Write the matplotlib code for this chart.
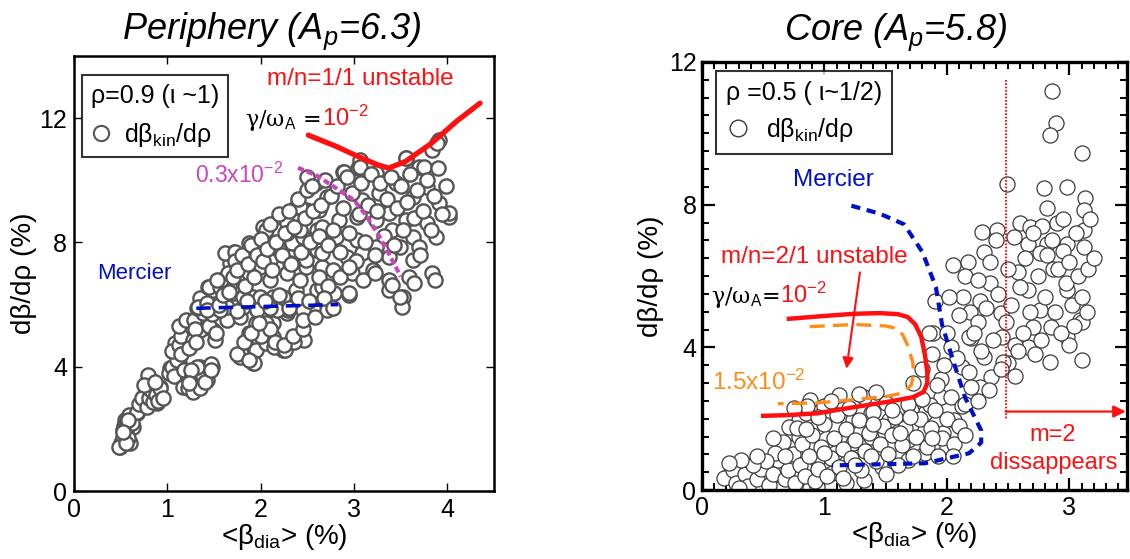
import matplotlib
matplotlib.use("Agg")
import matplotlib.pyplot as plt
from matplotlib.lines import Line2D
from matplotlib.ticker import MultipleLocator

plt.rcParams['font.family'] = ['Liberation Sans', 'DejaVu Sans']
plt.rcParams['mathtext.fontset'] = 'custom'
plt.rcParams['mathtext.rm'] = 'Liberation Sans'
plt.rcParams['mathtext.it'] = 'Liberation Sans:italic'
plt.rcParams['mathtext.bf'] = 'Liberation Sans:bold'

# ---------------- Periphery data ----------------
periph_points = [
    (0.49,1.41),(0.57,1.86),(0.55,2.28),(0.63,2.06),(0.60,1.54),(0.67,2.50),(0.71,2.70),(0.79,3.73),
    (0.74,3.02),(0.85,3.15),(0.92,3.34),(0.81,3.34),(0.89,2.83),(0.78,3.25),(0.50,1.55),(0.53,1.75),
    (0.56,1.90),(0.58,1.70),(0.54,2.10),(0.57,2.25),(0.62,2.20),(0.59,2.45),(0.52,1.95),(0.68,2.55),
    (0.70,2.80),(0.73,3.00),(0.78,2.70),(0.80,3.00),(0.83,3.25),(0.85,2.85),(0.88,3.10),(0.90,2.90),
    (0.92,3.30),(0.95,3.00),(0.75,3.40),(0.87,3.50),(0.48,1.41),(0.56,1.54),(0.58,2.28),(0.52,1.90),
    (1.03,3.95),(1.10,4.44),(1.08,4.76),(1.16,5.08),(1.21,5.27),(1.13,4.12),(1.06,3.79),(1.02,3.80),
    (1.05,4.00),(1.07,3.70),(1.10,4.20),(1.05,4.50),(1.12,4.70),(1.15,4.40),(1.15,5.00),(1.18,3.90),
    (1.12,5.30),(1.20,5.50),(1.22,3.47),(1.26,3.67),(1.38,3.79),(1.42,3.57),(1.33,3.57),(1.48,3.99),
    (1.35,3.99),(1.17,3.34),(1.22,3.30),(1.25,3.60),(1.28,3.20),(1.30,3.50),(1.35,3.30),(1.38,3.70),
    (1.45,3.95),(1.40,3.50),(1.32,4.00),(1.25,3.90),(1.47,4.10),(1.23,3.47),(1.47,3.89),
    (1.27,4.86),(1.35,5.18),(1.42,5.50),(1.49,5.18),(1.51,4.86),(1.29,5.50),(1.38,5.72),(1.30,5.20),
    (1.32,5.90),(1.45,5.30),(1.42,6.00),(1.48,5.70),(1.35,6.20),(1.50,6.30),(1.23,4.60),(1.33,5.92),
    (1.31,4.79),(1.52,5.08),(1.44,6.56),(1.49,6.46),(1.42,6.05),
    (1.78,4.31),(1.92,4.12),(1.85,4.63),(1.95,4.53),(2.06,4.76),(2.24,4.53),(2.13,4.95),(2.34,4.86),
    (1.88,5.08),(1.64,5.50),(1.78,5.60),(1.95,5.40),(2.13,5.40),(2.28,5.72),(2.02,5.72),(1.81,5.92),
    (1.64,5.92),(2.34,6.24),(2.13,6.24),(1.92,6.24),(1.70,6.37),(1.79,4.44),(1.93,4.12),(2.14,4.63),
    (2.26,4.53),(2.46,4.86),(2.36,4.79),(2.06,5.40),(2.29,5.82),(2.57,5.82),(2.79,6.37),(2.95,6.30),
    (1.75,4.40),(1.82,4.80),(1.88,4.20),(2.00,5.00),(2.10,5.20),(2.15,4.80),(2.25,4.70),(2.35,5.00),
    (2.45,5.20),(1.90,5.08),
    (2.38,9.13),(2.49,9.04),(2.02,8.49),(2.17,8.39),(2.28,8.62),(1.74,7.65),(1.67,7.33),(1.45,6.56),
    (1.56,6.56),(1.78,6.88),(1.99,7.20),(1.88,7.01),(2.10,7.43),(2.20,7.75),(2.34,7.97),(2.45,8.17),
    (2.60,8.39),(2.60,7.75),(2.66,7.20),(2.49,7.20),(2.28,7.01),(2.10,6.78),(1.99,6.24),(1.81,6.24),
    (1.67,6.69),(2.38,6.46),(2.24,6.24),(2.60,6.46),(2.71,5.82),(2.45,5.82),(2.17,5.82),(1.96,5.82),
    (1.56,5.82),(1.42,5.82),(2.06,8.07),(1.88,7.97),(2.31,7.52),(2.41,9.13),(2.06,8.39),(1.71,7.68),
    (1.62,7.65),(1.72,7.70),
    (2.88,10.26),(3.04,10.39),(3.24,10.22),(3.56,10.71),(3.70,10.42),(3.84,10.96),(3.91,11.29),
    (3.45,9.90),(3.78,9.78),(3.63,9.45),(3.91,9.26),(4.02,8.81),(3.27,9.58),(3.09,9.36),(2.71,9.45),
    (2.63,9.04),(2.42,9.13),(3.38,8.94),(3.56,8.71),(3.78,8.62),(3.88,8.17),(3.63,8.17),(3.41,8.39),
    (3.24,8.71),(3.03,8.81),(2.84,8.71),(2.66,8.49),(2.42,8.39),(2.28,8.30),(2.81,8.17),(3.03,8.07),
    (3.24,7.85),(3.49,7.85),(3.70,7.85),(3.63,7.43),(3.38,7.52),(3.09,7.65),(2.92,7.52),(2.66,7.65),
    (2.49,7.43),(2.31,7.33),(2.77,7.11),(2.98,7.01),(3.20,7.11),(3.38,6.78),(3.59,6.88),(3.84,7.01),
    (3.52,6.24),(3.51,5.92),(3.38,6.46),(2.95,6.37),(2.66,6.56),(2.42,6.78),(3.06,10.64),(2.89,10.26),
    (3.06,10.42),(3.56,10.70),(3.75,10.42),(3.89,11.19),(4.02,8.94),(3.49,6.24),(3.41,6.62),(3.64,6.69),
    (3.87,6.78),
    (1.55,6.00),(1.60,6.30),(1.58,6.80),(1.65,7.00),(1.70,6.90),(1.72,7.40),(1.75,7.10),(1.80,7.60),
    (1.83,6.60),(1.86,7.30),(1.90,7.90),(1.93,6.90),(1.96,7.60),(2.00,8.10),(2.03,7.40),(2.07,7.80),
    (2.10,8.60),(2.12,7.10),(2.16,8.00),(2.20,8.90),(2.23,7.60),(2.26,8.30),(2.30,9.00),(2.33,7.30),
    (2.36,8.50),(2.40,9.40),(2.43,7.70),(2.47,8.80),(2.50,9.70),(2.53,8.00),(2.56,9.00),(2.59,9.90),
    (2.62,8.20),(2.65,9.20),(2.69,10.00),(2.72,7.90),(2.75,9.50),(2.78,8.40),(2.82,9.80),(2.85,7.70),
    (2.88,9.10),(2.92,10.10),(2.95,8.30),(2.98,9.60),(3.02,7.40),(3.05,8.90),(3.08,9.90),(3.12,8.00),
    (3.15,9.20),(3.18,10.20),(3.22,7.60),(3.25,9.00),(3.28,9.90),(3.32,8.20),(3.35,9.40),(3.40,10.10),
    (3.43,7.90),(3.46,9.10),(3.50,9.80),(3.53,8.40),(3.57,9.30),(3.60,10.20),(3.64,8.80),(3.67,9.70),
    (3.71,7.60),(3.74,9.00),(3.78,10.00),(3.82,8.40),(3.86,9.50),(3.90,10.40),(3.94,8.90),(3.98,9.80),
    (2.10,5.90),(2.20,6.30),(2.30,5.90),(2.40,6.20),(2.52,6.10),(2.62,6.90),(2.72,6.60),(2.85,6.90),
    (2.95,7.20),(3.10,6.80),(3.22,7.00),(1.98,5.40),(2.05,6.10),(1.75,5.80),(1.85,6.10),(1.66,6.40),
    (1.53,6.80),(2.45,5.50),(2.58,5.60),(2.68,6.20),(2.78,5.90),(2.50,10.10),(2.55,9.80),
]
periph_beta = [p[0] for p in periph_points]
periph_dbeta = [p[1] for p in periph_points]

periph_unstable_x = [2.51, 2.80, 3.06, 3.25, 3.37, 3.55, 3.83, 4.10, 4.35]
periph_unstable_y = [11.45, 11.10, 10.74, 10.50, 10.39, 10.60, 11.19, 11.90, 12.48]
periph_03_x = [2.40, 2.60, 2.79, 3.00, 3.12, 3.25, 3.38, 3.50]
periph_03_y = [10.40, 10.15, 9.78, 9.36, 8.90, 8.30, 7.60, 6.90]
periph_mercier_x = [1.31, 2.83]
periph_mercier_y = [5.88, 6.00]

# ---------------- Core data ----------------
core_points = [
    (2.86,11.20),(2.89,10.30),(2.84,9.94),(3.10,9.44),(2.49,8.57),(2.79,8.46),(2.98,8.49),(3.13,8.20),
    (2.82,7.90),(3.12,7.84),(2.60,7.50),(2.68,7.37),(2.78,7.40),(2.90,7.50),(2.29,7.23),(2.41,7.28),
    (2.66,6.90),(2.82,6.90),(2.98,6.90),(3.12,7.28),(2.30,6.67),
    (2.05,6.30),(2.17,6.40),(2.13,5.40),(2.27,5.30),(2.19,5.00),(2.25,4.70),(1.90,5.30),(1.89,4.40),
    (2.20,4.25),(2.35,5.80),(2.44,4.96),(2.45,4.30),(2.58,6.10),(2.66,5.60),(2.76,5.04),(2.85,4.57),
    (2.87,6.20),(2.98,5.60),(3.09,4.76),(2.98,4.30),(2.66,4.00),(2.76,6.64),(2.95,6.70),
    (3.10,4.70),(3.10,3.64),(3.00,4.06),(2.56,4.06),(2.70,4.57),(2.50,3.56),(2.36,3.17),(2.27,2.88),
    (2.18,4.30),(2.30,3.72),(2.03,4.00),(2.12,3.45),
    (0.22,0.42),(0.33,0.28),(0.41,0.47),(0.53,0.28),(0.65,0.08),(0.77,0.02),(0.88,0.05),(0.65,0.64),
    (0.71,1.20),(0.79,1.48),(0.94,0.84),(1.09,1.03),(1.23,1.31),(1.38,1.48),(1.53,1.20),(1.68,1.40),
    (1.82,1.68),(1.97,1.59),(2.06,1.96),(1.82,2.15),(1.71,2.24),(1.53,1.96),(1.38,2.15),(1.23,1.96),
    (1.09,1.76),(0.94,1.76),(0.79,1.96),(0.71,1.76),(0.85,2.15),(1.32,2.60),(0.88,2.52),(1.95,2.60),
    (1.86,2.38),(1.47,0.64),(1.32,0.28),(1.18,0.20),(0.94,0.08),(1.06,0.47),(1.68,0.84),(1.82,1.03),
    (2.00,1.20),
    (0.18,0.35),(0.25,0.55),(0.28,0.20),(0.35,0.45),(0.38,0.10),(0.45,0.30),(0.48,0.60),(0.55,0.15),
    (0.58,0.45),(0.62,0.85),(0.68,0.30),(0.70,0.55),(0.74,1.00),(0.76,0.20),(0.80,0.70),(0.82,1.30),
    (0.84,0.40),(0.87,0.95),(0.90,1.55),(0.92,0.25),(0.95,0.60),(0.97,1.20),(1.00,1.85),(1.02,0.40),
    (1.05,0.90),(1.08,1.45),(1.10,2.10),(1.12,0.65),(1.15,1.15),(1.18,1.70),(1.20,2.30),(1.22,0.90),
    (1.25,1.40),(1.28,1.95),(1.30,0.55),(1.33,1.10),(1.36,1.60),(1.40,2.20),(1.42,0.80),(1.45,1.30),
    (1.48,1.80),(1.50,2.45),(1.52,1.00),(1.55,1.55),(1.58,2.05),(1.60,0.70),(1.63,1.25),(1.66,1.75),
    (1.68,2.40),(1.72,0.95),(1.75,1.50),(1.78,2.00),(1.80,2.55),(1.84,1.20),(1.87,1.75),(1.90,2.25),
    (1.93,0.95),(1.96,1.45),(2.00,2.00),(2.03,2.60),(2.06,1.30),(2.10,1.80),(2.12,2.35),(1.12,2.65),
    (1.28,2.70),(1.42,2.75),(1.00,2.35),(0.86,2.35),(0.78,1.75),(0.66,1.35),(0.60,1.05),(0.52,0.80),
    (0.42,0.70),(0.32,0.85),(0.22,0.75),
    (0.30,0.05),(0.45,0.95),(0.58,1.45),(0.68,0.95),(0.85,1.70),(1.00,1.05),(1.15,0.35),(1.25,0.70),
    (1.38,0.95),(1.50,0.45),(1.62,1.60),(1.70,2.05),(1.88,1.45),(2.05,0.95),(2.15,1.55),(1.40,1.85),
    (1.55,2.25),(1.05,2.50),(0.95,2.05),(0.75,2.30),
    (1.72,3.00),(1.80,3.40),(1.85,4.40),(1.88,3.80),(1.95,3.10),(2.00,4.40),(2.02,5.40),(2.08,3.70),
    (2.10,4.90),(2.15,6.00),(2.18,3.30),(2.22,4.40),(2.25,5.90),(2.28,3.90),(2.32,5.10),(2.35,6.40),
    (2.38,4.20),(2.40,7.00),(2.42,5.50),(2.46,3.60),(2.48,4.70),(2.50,6.20),(2.52,5.20),(2.55,7.10),
    (2.58,3.90),(2.60,5.70),(2.62,4.40),(2.64,6.50),(2.68,5.00),(2.70,7.20),(2.72,3.80),(2.74,6.00),
    (2.77,4.20),(2.80,5.40),(2.82,6.60),(2.84,3.60),(2.86,7.00),(2.88,5.00),(2.91,6.20),(2.93,4.40),
    (2.95,7.60),(2.97,5.80),(3.00,6.40),(3.02,5.20),(3.05,7.20),(3.07,6.00),(3.10,5.40),(3.12,6.80),
    (3.15,6.20),(3.17,7.60),(3.20,6.50),(3.14,5.00),(3.04,4.60),(2.56,3.20),(2.44,3.40),(2.34,2.80),
    (2.20,2.90),(2.15,2.40),(2.25,2.50),(1.98,3.50),(1.92,2.95),
]
core_beta = [p[0] for p in core_points]
core_dbeta = [p[1] for p in core_points]

core_mercier_x = [1.22, 1.45, 1.65, 1.80, 1.91, 1.96, 2.06, 2.15, 2.28, 2.28, 2.18, 1.82, 1.06]
core_mercier_y = [7.97, 7.75, 7.45, 6.67, 5.69, 4.64, 3.53, 2.58, 1.67, 1.33, 1.03, 0.75, 0.69]
core_red_x = [0.71, 1.00, 1.24, 1.45, 1.60, 1.68, 1.74, 1.79, 1.82, 1.84, 1.84, 1.81, 1.72, 1.53,
              1.20, 0.94, 0.70, 0.50]
core_red_y = [4.80, 4.88, 4.94, 4.96, 4.93, 4.85, 4.65, 4.30, 3.80, 3.30, 3.00, 2.75, 2.60, 2.48,
              2.30, 2.15, 2.10, 2.08]
core_orange_x = [0.88, 1.24, 1.50, 1.59, 1.64, 1.68, 1.72, 1.73, 1.71, 1.64, 1.50, 1.20, 0.94, 0.62]
core_orange_y = [4.58, 4.64, 4.60, 4.53, 4.35, 4.05, 3.60, 3.30, 2.95, 2.72, 2.62, 2.52, 2.44, 2.42]
core_m2_limit_x = [2.48, 2.48]
core_m2_limit_y = [11.5, 1.96]

RED = '#ff1010'
BLUE = '#0010c8'
MAGENTA = '#cc44bb'
ORANGE = '#ff8c1a'

fig = plt.figure(figsize=(11.30, 5.59), dpi=100)
ax1 = fig.add_axes([0.0655, 0.1216, 0.3717, 0.7784])
ax2 = fig.add_axes([0.6212, 0.1234, 0.3761, 0.7657])

# ---------- left panel ----------
ax1.scatter(periph_beta, periph_dbeta, s=105, facecolors='white', edgecolors='#555555',
            linewidths=1.7, zorder=2)
ax1.plot(periph_unstable_x, periph_unstable_y, color=RED, lw=3.8, solid_capstyle='round', zorder=4)
ax1.plot(periph_03_x, periph_03_y, color=MAGENTA, lw=3.0, dashes=(1.5, 0.8), zorder=4)
ax1.plot(periph_mercier_x, periph_mercier_y, color=BLUE, lw=2.6, dashes=(4, 2.2), zorder=4)

ax1.set_xlim(0, 4.5)
ax1.set_ylim(0, 14)
ax1.set_xticks([0, 1, 2, 3, 4])
ax1.set_yticks([0, 4, 8, 12])
ax1.tick_params(direction='in', top=True, right=True, length=6, width=1.0, labelsize=18, pad=5,
                colors='black')
for sp in ax1.spines.values():
    sp.set_linewidth(1.8)
ax1.set_xlabel('<β$_\\mathrm{dia}$> (%)', fontsize=20, labelpad=0)
ax1.set_ylabel('dβ/dρ (%)', fontsize=20, labelpad=2)
ax1.set_title('Periphery (A$_\\mathit{p}$=6.3)', fontstyle='italic', fontsize=26, x=0.47, pad=12)

h1 = Line2D([], [], ls='none', marker='o', ms=11, mfc='white', mec='#555555', mew=1.5)
leg1 = ax1.legend([h1], ['dβ$_\\mathrm{kin}$/dρ'], title='ρ=0.9 (ι ~1)', loc='upper left',
                  bbox_to_anchor=(0.02, 0.955), fontsize=18, title_fontsize=18, frameon=True,
                  fancybox=False, edgecolor='black', handlelength=0.8, handletextpad=0.5,
                  borderpad=0.35, alignment='left', borderaxespad=0, labelspacing=0.2)
leg1._legend_box.sep = 9
leg1.get_frame().set_linewidth(1.5)
leg1.set_zorder(6)

ax1.text(3.07, 13.25, 'm/n=1/1 unstable', color=RED, fontsize=17.5, ha='center', va='center')
ax1.text(2.64, 11.75, 'γ/ω$_\\mathrm{A}$ =', color='black', fontsize=16, ha='right', va='baseline',
         family=['DejaVu Serif'])
ax1.text(2.66, 11.75, '10$^{-2}$', color=RED, fontsize=17, ha='left', va='baseline')
ax1.text(1.30, 10.15, '0.3x10$^{-2}$', color=MAGENTA, fontsize=16.5, ha='left', va='center')
ax1.text(0.25, 7.0, 'Mercier', color=BLUE, fontsize=16, ha='left', va='center')

# ---------- right panel ----------
ax2.scatter(core_beta, core_dbeta, s=118, facecolors='white', edgecolors='#3a3a3a',
            linewidths=0.9, zorder=2, clip_on=True)
ax2.plot(core_mercier_x, core_mercier_y, color=BLUE, lw=3.0, dashes=(2.2, 1.6), zorder=4)
ax2.plot(core_red_x, core_red_y, color=RED, lw=3.2, zorder=4)
ax2.plot(core_orange_x, core_orange_y, color=ORANGE, lw=2.4, dashes=(4.5, 2.5), zorder=4)
ax2.plot(core_m2_limit_x, core_m2_limit_y, color=RED, lw=1.5, dashes=(0.8, 0.8), zorder=4)
ax2.annotate('', xy=(3.46, 2.2), xytext=(2.48, 2.2),
             arrowprops=dict(arrowstyle='-|>', color=RED, lw=1.6, mutation_scale=18,
                             shrinkA=0, shrinkB=0), zorder=5, annotation_clip=False)
ax2.annotate('', xy=(1.18, 3.40), xytext=(1.29, 6.10),
             arrowprops=dict(arrowstyle='-|>', color=RED, lw=1.5, mutation_scale=16,
                             shrinkA=0, shrinkB=0), zorder=5)

ax2.set_xlim(0, 3.47)
ax2.set_ylim(0, 12)
ax2.set_xticks([0, 1, 2, 3])
ax2.set_yticks([0, 4, 8, 12])
ax2.xaxis.set_minor_locator(MultipleLocator(0.1))
ax2.yaxis.set_minor_locator(MultipleLocator(0.5))
ax2.tick_params(which='major', direction='in', top=True, right=True, length=9, width=1.6,
                labelsize=18, pad=4)
ax2.tick_params(which='minor', direction='in', top=True, right=True, length=5, width=1.4)
for sp in ax2.spines.values():
    sp.set_linewidth(2.4)
ax2.set_xlabel('<β$_\\mathrm{dia}$> (%)', fontsize=20, labelpad=0)
ax2.set_ylabel('dβ/dρ (%)', fontsize=20, labelpad=3)
ax2.set_title('Core (A$_\\mathit{p}$=5.8)', fontstyle='italic', fontsize=26, x=0.455, pad=16)

h2 = Line2D([], [], ls='none', marker='o', ms=12, mfc='white', mec='#3a3a3a', mew=1.0)
leg2 = ax2.legend([h2], ['dβ$_\\mathrm{kin}$/dρ'], title='ρ =0.5 ( ι~1/2)', loc='upper left',
                  bbox_to_anchor=(0.033, 0.98), fontsize=18, title_fontsize=18, frameon=True,
                  fancybox=False, edgecolor='black', handlelength=1.0, handletextpad=0.6,
                  borderpad=0.4, alignment='left', borderaxespad=0, labelspacing=0.2)
leg2._legend_box.sep = 8
leg2.get_frame().set_linewidth(1.5)
leg2.set_zorder(6)

ax2.text(1.07, 8.68, 'Mercier', color=BLUE, fontsize=17.5, ha='center', va='center')
ax2.text(0.92, 6.53, 'm/n=2/1 unstable', color=RED, fontsize=17.5, ha='center', va='center')
ax2.text(0.63, 5.25, 'γ/ω$_\\mathrm{A}$=', color='black', fontsize=16, ha='right', va='baseline',
         family=['DejaVu Serif'])
ax2.text(0.64, 5.25, '10$^{-2}$', color=RED, fontsize=17, ha='left', va='baseline')
ax2.text(0.08, 3.03, '1.5x10$^{-2}$', color=ORANGE, fontsize=17.5, ha='left', va='center')
ax2.text(2.86, 1.54, 'm=2', color=RED, fontsize=17, ha='center', va='center')
ax2.text(2.87, 0.76, 'dissappears', color=RED, fontsize=17, ha='center', va='center')

fig.savefig('out.png', dpi=100)
